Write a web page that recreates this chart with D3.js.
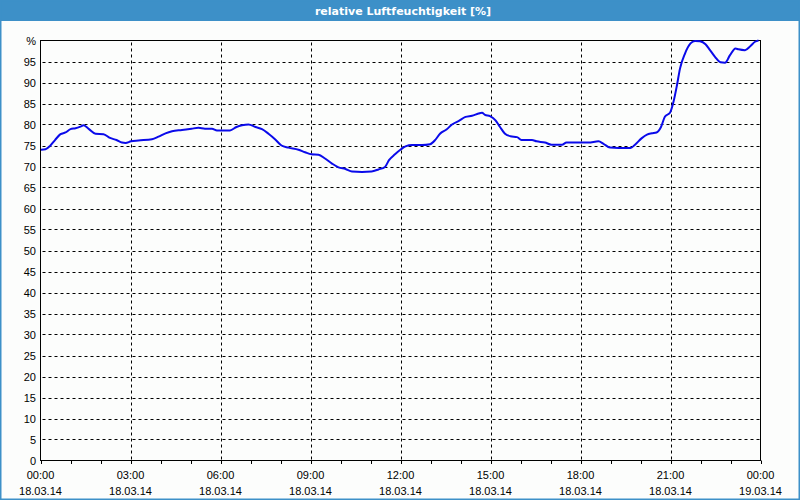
<!DOCTYPE html>
<html>
<head>
<meta charset="utf-8">
<script src="https://cdn.jsdelivr.net/npm/d3@7"></script>
<style>
  html, body { margin: 0; padding: 0; background: #fcfdfc; }
  svg { display: block; }
  text { font-family: "Liberation Sans", Arial, sans-serif; }
</style>
</head>
<body>
<script>
// ---- data ----
const title = "relative Luftfeuchtigkeit [%]";
const sampleTimes = ["00:01","00:10","00:19","00:29","00:40","00:50","01:00","01:10","01:20","01:26","01:37","01:50",
  "02:06","02:19","02:32","02:43","02:50","03:01","03:16","03:43","03:56","04:10","04:23","04:43","05:02","05:16","05:29",
  "05:43","05:53","06:01","06:19","06:32","06:43","06:56","07:10","07:23","07:36","07:49","08:02","08:16","08:36","08:49",
  "09:02","09:16","09:29","09:43","09:56","10:10","10:23","10:43","11:02","11:16","11:29","11:37","11:49","12:01","12:10",
  "12:23","12:43","12:59","13:10","13:19","13:32","13:43","13:56","14:10","14:23","14:36","14:43","14:49","14:59","15:10",
  "15:19","15:29","15:40","15:53","16:02","16:23","16:32","16:49","17:02","17:23","17:32","17:49","18:01","18:16","18:36",
  "18:46","18:59","19:16","19:40","19:49","20:02","20:13","20:23","20:32","20:41","20:49","20:59","21:06","21:13","21:19",
  "21:29","21:40","21:49","21:59","22:10","22:19","22:29","22:40","22:49","22:59","23:10","23:16","23:29","23:40","23:49","23:56"];
const humidity = [74.0,74.1,74.9,76.3,77.7,78.1,78.9,79.1,79.5,79.8,78.9,77.8,
  77.7,76.8,76.3,75.7,75.6,76.0,76.2,76.5,77.1,77.9,78.4,78.7,79.0,79.2,79.0,
  79.0,78.6,78.6,78.6,79.4,79.8,80.0,79.4,78.9,77.8,76.5,75.0,74.5,74.0,73.4,
  72.9,72.8,71.9,70.7,69.8,69.4,68.8,68.7,68.8,69.3,69.9,71.5,72.9,74.1,74.8,
  75.1,75.1,75.3,76.4,77.8,78.8,80.0,80.8,81.8,82.1,82.6,82.8,82.3,82.0,81.0,
  79.4,77.8,77.2,77.0,76.3,76.3,76.0,75.7,75.2,75.2,75.7,75.7,75.7,75.7,76.0,
  75.4,74.5,74.4,74.4,75.2,76.7,77.6,77.9,78.1,79.4,81.9,82.8,85.4,89.4,93.3,
  96.9,99.3,99.9,99.8,99.1,97.7,96.1,94.8,94.7,96.5,98.1,97.9,97.7,98.7,99.7,100.0];
const yTicks = [0,5,10,15,20,25,30,35,40,45,50,55,60,65,70,75,80,85,90,95,100];
const xTickTimes = ["2014-03-18T00:00","2014-03-18T03:00","2014-03-18T06:00","2014-03-18T09:00","2014-03-18T12:00",
  "2014-03-18T15:00","2014-03-18T18:00","2014-03-18T21:00","2014-03-19T00:00"];
const baseDay = "2014-03-18";
const nextDay = "2014-03-19";

// ---- layout ----
const W = 800, H = 500;
const plot = {left: 40.5, right: 760.5, top: 40.5, bottom: 460.5};

const parseT = d3.timeParse("%Y-%m-%dT%H:%M");
const data = sampleTimes.map((t, i) => ({t: parseT(baseDay + "T" + t), v: humidity[i]}));

const x = d3.scaleTime()
  .domain([parseT(baseDay + "T00:00"), parseT(nextDay + "T00:00")])
  .range([plot.left, plot.right]);
const y = d3.scaleLinear().domain([0, 100]).range([plot.bottom, plot.top]);

const svg = d3.select("body").append("svg").attr("width", W).attr("height", H);

svg.append("rect").attr("x", 0).attr("y", 0).attr("width", W).attr("height", H).attr("fill", "#fcfdfc");

// Title bar
svg.append("rect").attr("x", 0).attr("y", 0).attr("width", W).attr("height", 21).attr("fill", "#3d90c8");
svg.append("rect").attr("x", 0.5).attr("y", 0.5).attr("width", W - 1).attr("height", H - 1)
  .attr("fill", "none").attr("stroke", "#3d90c8").attr("stroke-width", 2);
svg.append("text").attr("x", 403).attr("y", 14.5).attr("text-anchor", "middle")
  .style("font-family", "'DejaVu Sans', Verdana, sans-serif")
  .attr("fill", "#ffffff").attr("font-weight", "bold").attr("font-size", "11px").text(title);

// Grid
const grid = svg.append("g");
grid.selectAll("line.h").data(yTicks.filter(v => v > 0 && v < 100)).enter().append("line")
  .attr("x1", plot.left).attr("x2", plot.right)
  .attr("y1", d => Math.round(y(d)) + 0.5).attr("y2", d => Math.round(y(d)) + 0.5)
  .attr("stroke", "#000").attr("stroke-width", 1).attr("stroke-dasharray", "3,3").attr("stroke-dashoffset", -2);
const xTicks = xTickTimes.map(parseT);
grid.selectAll("line.v").data(xTicks.slice(1, -1)).enter().append("line")
  .attr("x1", d => Math.round(x(d)) + 0.5).attr("x2", d => Math.round(x(d)) + 0.5)
  .attr("y1", plot.top).attr("y2", plot.bottom)
  .attr("stroke", "#000").attr("stroke-width", 1).attr("stroke-dasharray", "3,3").attr("stroke-dashoffset", -2);

// Frame
svg.append("rect").attr("x", plot.left).attr("y", plot.top)
  .attr("width", plot.right - plot.left).attr("height", plot.bottom - plot.top)
  .attr("fill", "none").attr("stroke", "#000").attr("stroke-width", 1);

// Y labels
svg.append("g").selectAll("text").data(yTicks).enter().append("text")
  .attr("x", 36).attr("y", d => y(d) + 4)
  .attr("text-anchor", "end").attr("font-size", "11px").attr("fill", "#000")
  .text(d => d === 100 ? "%" : d);

// X axis minor ticks (hourly)
const hourTicks = x.ticks(d3.timeHour.every(1));
svg.append("g").selectAll("line").data(hourTicks).enter().append("line")
  .attr("x1", d => Math.round(x(d)) + 0.5).attr("x2", d => Math.round(x(d)) + 0.5)
  .attr("y1", plot.bottom).attr("y2", plot.bottom + 3.5)
  .attr("stroke", "#000").attr("stroke-width", 1);

// X labels
const fmtTime = d3.timeFormat("%H:%M"), fmtDate = d3.timeFormat("%d.%m.%y");
const xl = svg.append("g").selectAll("g").data(xTicks).enter().append("g");
xl.append("text").attr("x", d => x(d)).attr("y", 479).attr("text-anchor", "middle")
  .attr("font-size", "11px").attr("fill", "#000").text(d => fmtTime(d));
xl.append("text").attr("x", d => x(d)).attr("y", 494.5).attr("text-anchor", "middle")
  .attr("font-size", "11px").attr("fill", "#000").text(d => fmtDate(d));

// Line
const line = d3.line().x(d => x(d.t)).y(d => y(d.v)).curve(d3.curveMonotoneX);
svg.append("path").datum(data).attr("d", line)
  .attr("fill", "none").attr("stroke", "#0a0aea").attr("stroke-width", 2).attr("stroke-linejoin", "round");
</script>
</body>
</html>
